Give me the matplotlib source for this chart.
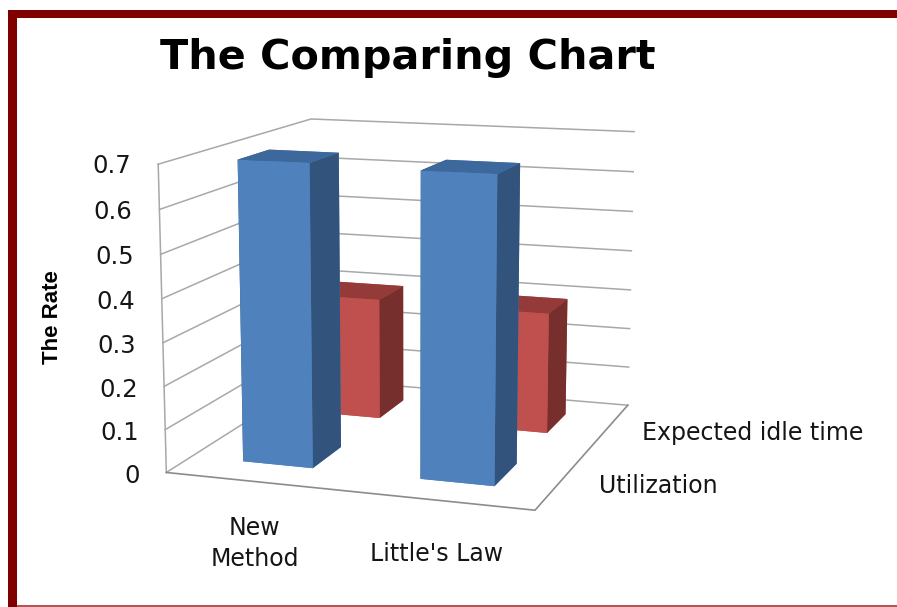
import numpy as np
import matplotlib
matplotlib.use("Agg")
from matplotlib import pyplot as plt
from matplotlib.patches import Rectangle
from mpl_toolkits.mplot3d import proj3d

methods = ["New\nMethod", "Little's Law"]
series_names = ["Utilization", "Expected idle time"]
utilization = [0.698, 0.693]
idle_time = [0.30, 0.295]
z_ticks = [0, 0.1, 0.2, 0.3, 0.4, 0.5, 0.6, 0.7]
z_labels = ["0", "0.1", "0.2", "0.3", "0.4", "0.5", "0.6", "0.7"]

BLUE = {"front": "#4f81bd", "top": "#3c689c", "side": "#32547c"}
RED = {"front": "#c0504d", "top": "#943b39", "side": "#772f2d"}
GRID = "#a8a8a8"
TEXT = "#151515"
W, H = 897, 607


def add_bar(ax, i, j, value, cols, zorder):
    # faces: bottom, top, front, back, left, right
    faces = [cols["front"], cols["top"], cols["front"], cols["front"], cols["side"], cols["side"]]
    ax.bar3d(i + 0.3, j + 0.3, 0, 0.4, 0.4, value, color=faces, shade=False,
             linewidth=0, zorder=zorder)


def label(ax, x, y, z, txt, **kw):
    # flat text placed at the projected position of a 3d point
    px, py, _ = proj3d.proj_transform(x, y, z, ax.get_proj())
    ax.text2D(px, py, txt, transform=ax.transData, color=TEXT, **kw)


fig = plt.figure(figsize=(W / 100, H / 100), dpi=100)
s = 588.3
ax = fig.add_axes([(403.3 - s / 2) / W, (305 - s / 2) / H, s / W, s / H], projection="3d")
ax.set_xlim(0, 2)
ax.set_ylim(0, 2)
ax.set_zlim(0, 0.7)
ax.view_init(elev=11.664, azim=-71.4)
ax.set_proj_type("persp", focal_length=0.614)
ax.set_box_aspect((1, 1.059, 0.815))
ax.set_axis_off()
ax.computed_zorder = False

# walls and floor
for z in z_ticks:
    ax.plot([0, 0, 2], [0, 2, 2], [z, z, z], color=GRID, lw=1.1, zorder=1)
ax.plot([0, 0], [0, 0], [0, 0.7], color=GRID, lw=1.1, zorder=1)
ax.plot([0, 2, 2], [0, 0, 2], [0, 0, 0], color="#8c8c8c", lw=1.2, zorder=1)

# back row first so the front row covers it
for i, v in enumerate(idle_time):
    add_bar(ax, i, 1, v, RED, 2 + i * 0.1)
for i, v in enumerate(utilization):
    add_bar(ax, i, 0, v, BLUE, 3 + i * 0.1)

for z, lab in zip(z_ticks, z_labels):
    label(ax, -0.10, -0.10, z, lab, ha="right", va="center", fontsize=17.5)
for i, lab in enumerate(methods):
    label(ax, i + 0.5 - 0.01 * i, 0, -0.08 - 0.015 * i, lab, ha="center", va="top",
          fontsize=17, linespacing=1.38)
for j, lab in enumerate(series_names):
    label(ax, 2.2, j + 0.5, -0.004, lab, ha="left", va="center", fontsize=17)

fig.text(407.5 / W, 1 - 58 / H, "The Comparing Chart", ha="center", va="center",
         fontsize=29.8, fontweight="bold", color="black")
fig.text(52 / W, 1 - 317 / H, "The Rate", rotation=90, ha="center", va="center",
         fontsize=16, fontweight="bold", color="black", family="Liberation Sans")

# picture frame
frame = "#800000"
fig.add_artist(Rectangle((8 / W, 0), 9 / W, 1 - 10 / H, transform=fig.transFigure, color=frame, lw=0))
fig.add_artist(Rectangle((8 / W, 1 - 17.5 / H), 1 - 8 / W, 7.5 / H, transform=fig.transFigure, color=frame, lw=0))
fig.add_artist(Rectangle((17 / W, 1 - 606.5 / H), 1 - 17 / W, 1.2 / H, transform=fig.transFigure, color="#b85450", lw=0))

fig.savefig("out.png", dpi=100)
